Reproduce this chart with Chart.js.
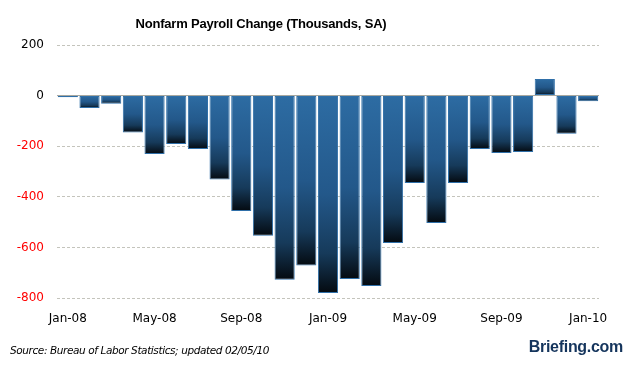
<!DOCTYPE html>
<html>
<head>
<meta charset="utf-8">
<script src="https://cdn.jsdelivr.net/npm/chart.js@4"></script>
<style>
  body { margin: 0; background: #fff; }
  #wrap { position: relative; width: 628px; height: 369px; overflow: hidden; }
  #chart { position: absolute; left: 0; top: 0; }
  #title { position: absolute; top: 16px; left: 0; width: 522px; text-align: center;
           font: bold 13px "Liberation Sans", sans-serif; color: #000; letter-spacing: -0.2px; }
  #source { position: absolute; left: 10px; top: 344px; font: italic 10.5px "DejaVu Sans", sans-serif; color: #000; letter-spacing: -0.4px; }
  #brand { position: absolute; right: 5px; top: 338px; font: bold 16px "Liberation Sans", sans-serif; color: #14345c; letter-spacing: -0.3px; }
</style>
</head>
<body>
<div id="wrap">
  <canvas id="chart" width="628" height="369"></canvas>
  <div id="title">Nonfarm Payroll Change (Thousands, SA)</div>
  <div id="source">Source: Bureau of Labor Statistics; updated 02/05/10</div>
  <div id="brand">Briefing.com</div>
</div>
<script>
const months = ['Jan-08','Feb-08','Mar-08','Apr-08','May-08','Jun-08','Jul-08','Aug-08','Sep-08','Oct-08','Nov-08','Dec-08',
                'Jan-09','Feb-09','Mar-09','Apr-09','May-09','Jun-09','Jul-09','Aug-09','Sep-09','Oct-09','Nov-09','Dec-09','Jan-10'];
const payrollChange = [-7, -49, -32, -146, -231, -191, -211, -332, -456, -554, -728, -672,
                       -780, -725, -753, -583, -345, -504, -345, -211, -227, -223, 66, -151, -22];
const yTicks = [200, 0, -200, -400, -600, -800];

// vertical gradient per bar, blue at the top going to near black at the bottom
function barFill(context) {
    const chart = context.chart;
    if (!chart.chartArea || context.raw === undefined) return '#2c6ca2';
    const y = chart.scales.y;
    const p0 = y.getPixelForValue(0), p1 = y.getPixelForValue(context.raw);
    const top = Math.min(p0, p1), bottom = Math.max(p0, p1);
    if (bottom - top < 1) return '#2c6ca2';
    const g = chart.ctx.createLinearGradient(0, top, 0, bottom);
    g.addColorStop(0, '#2d6ca3');
    g.addColorStop(0.5, '#23588a');
    g.addColorStop(0.8, '#163a5a');
    g.addColorStop(1, '#040a10');
    return g;
}

new Chart(document.getElementById('chart').getContext('2d'), {
    type: 'bar',
    data: {
        labels: months,
        datasets: [{
            label: 'Nonfarm Payroll Change',
            data: payrollChange,
            backgroundColor: barFill,
            borderColor: '#2f6fa8',
            borderWidth: 1,
            borderSkipped: false,
            categoryPercentage: 1,
            barPercentage: 0.93
        }]
    },
    options: {
        responsive: false,
        animation: false,
        layout: { padding: { top: 45, right: 29, bottom: 0, left: 0 } },
        plugins: { legend: { display: false }, tooltip: { enabled: false } },
        scales: {
            x: {
                grid: { display: false, drawTicks: false },
                border: { display: false },
                afterFit: s => { s.height = 71; },
                ticks: {
                    autoSkip: false, maxRotation: 0, padding: 14,
                    color: '#000',
                    font: { family: 'DejaVu Sans', size: 12 },
                    callback: (v, i) => i % 4 === 0 ? months[i] : ''
                }
            },
            y: {
                min: -800, max: 200,
                afterFit: s => { s.width = 57; },
                afterBuildTicks: s => { s.ticks = yTicks.map(v => ({ value: v })); },
                grid: {
                    drawTicks: false,
                    color: c => c.tick && c.tick.value === 0 ? '#a8a8a0' : '#c4c4bc'
                },
                border: { display: false, dash: c => c.tick && c.tick.value === 0 ? [] : [3, 2] },
                ticks: {
                    padding: 13,
                    color: c => c.tick && c.tick.value < 0 ? '#ff0000' : '#000',
                    font: { family: 'DejaVu Sans', size: 12 }
                }
            }
        }
    }
});
</script>
</body>
</html>
